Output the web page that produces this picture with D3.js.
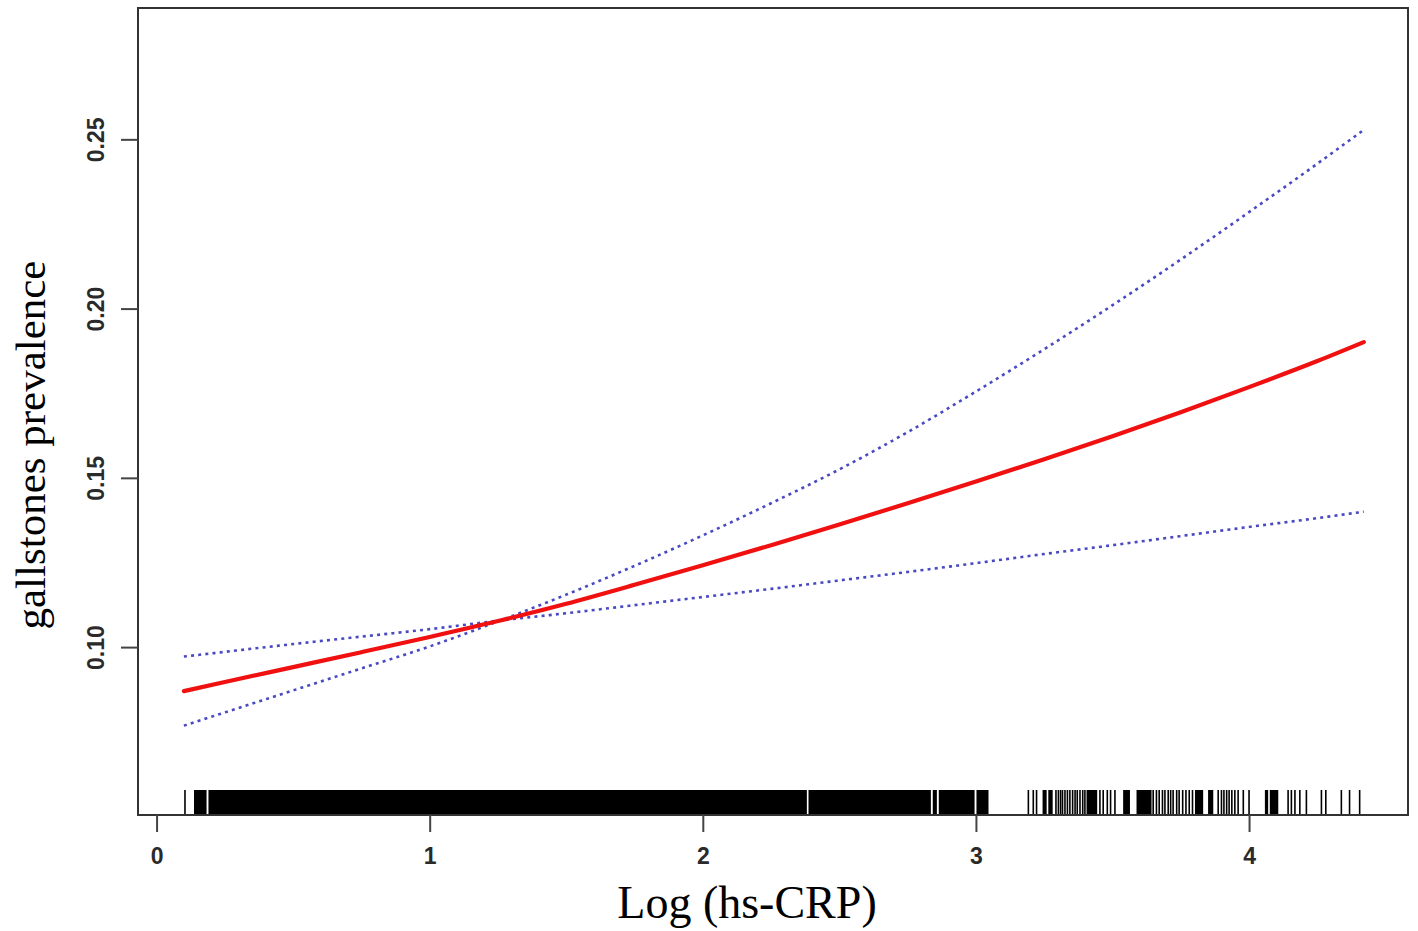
<!DOCTYPE html>
<html>
<head>
<meta charset="utf-8">
<script src="https://cdn.jsdelivr.net/npm/d3@7"></script>
<style>
  html, body { margin: 0; padding: 0; background: #fff; }
  svg { display: block; }
</style>
</head>
<body>
<svg id="chart" width="1418" height="931"></svg>
<script>
// ---------- data ----------
const xValues   = [0.1, 0.25, 0.5, 0.75, 1.0, 1.25, 1.5, 1.75, 2.0, 2.25, 2.5, 2.75, 3.0, 3.25, 3.5, 3.75, 4.0, 4.25, 4.42];
const estimate  = [0.0870, 0.0897, 0.0941, 0.0985, 0.1030, 0.1077, 0.1128, 0.1184, 0.1242, 0.1301, 0.1362, 0.1425, 0.1489, 0.1555, 0.1623, 0.1694, 0.1768, 0.1845, 0.1901];
const ciUpper   = [0.0768, 0.0807, 0.0872, 0.0937, 0.1002, 0.1076, 0.1155, 0.1240, 0.1330, 0.1425, 0.1525, 0.1635, 0.1755, 0.1880, 0.2010, 0.2145, 0.2285, 0.2428, 0.2528];
const ciLower   = [0.0972, 0.0986, 0.1009, 0.1031, 0.1053, 0.1078, 0.1100, 0.1124, 0.1148, 0.1172, 0.1197, 0.1222, 0.1248, 0.1275, 0.1301, 0.1328, 0.1355, 0.1381, 0.1400];

// rug: dense stretches [from, to] and single observations
const rugDense = [
  [0.137, 0.183], [0.190, 2.381], [2.387, 2.835], [2.842, 2.857], [2.864, 2.995], [3.002, 3.046],
  [3.244, 3.259], [3.265, 3.281], [3.405, 3.444], [3.539, 3.564], [3.588, 3.643],
  [3.802, 3.832], [3.850, 3.869], [4.058, 4.070], [4.076, 4.107]
];
const rugTicks = [
  0.104, 3.192, 3.210, 3.222,
  3.293, 3.302, 3.310, 3.317, 3.326, 3.335, 3.344, 3.354, 3.363, 3.371, 3.381, 3.391, 3.399,
  3.454, 3.466, 3.481, 3.493, 3.509,
  3.649, 3.661, 3.671, 3.683, 3.692, 3.704, 3.713, 3.722, 3.735, 3.744, 3.757, 3.769, 3.781, 3.793,
  3.887, 3.899, 3.908, 3.918, 3.927, 3.937, 3.948, 3.960, 3.979, 4.000,
  4.143, 4.155, 4.168, 4.186, 4.210, 4.265, 4.281, 4.338, 4.368, 4.405
];

const xTicks = [0, 1, 2, 3, 4];
const yTicks = [0.10, 0.15, 0.20, 0.25];
const yTickLabels = ["0.10", "0.15", "0.20", "0.25"];
const xTitle = "Log (hs-CRP)";
const yTitle = "gallstones prevalence";

// ---------- layout ----------
const svg = d3.select("#chart");
const box = { left: 138, right: 1408, top: 8, bottom: 815 };

const x = d3.scaleLinear().domain([-0.068, 4.582]).range([box.left, box.right]);
const y = d3.scaleLinear().domain([0.0504, 0.2888]).range([box.bottom, box.top]);

const series = xValues.map((v, i) => ({ x: v, est: estimate[i], up: ciUpper[i], lo: ciLower[i] }));

// rug
const rugTop = 790;
const rug = svg.append("g");
rug.selectAll("rect.dense").data(rugDense).join("rect")
  .attr("class", "dense")
  .attr("x", d => x(d[0]))
  .attr("width", d => Math.max(1.4, x(d[1]) - x(d[0])))
  .attr("y", rugTop)
  .attr("height", box.bottom - rugTop)
  .attr("fill", "#000");
rug.selectAll("line.tick").data(rugTicks).join("line")
  .attr("class", "tick")
  .attr("x1", d => x(d)).attr("x2", d => x(d))
  .attr("y1", rugTop).attr("y2", box.bottom)
  .attr("stroke", "#000").attr("stroke-width", 1.6);

// lines
const lineOf = key => d3.line().x(d => x(d.x)).y(d => y(d[key])).curve(d3.curveMonotoneX);

svg.append("path").datum(series)
  .attr("d", lineOf("up"))
  .attr("fill", "none").attr("stroke", "#3535bd").attr("stroke-width", 2.6)
  .attr("stroke-dasharray", "3,4.2").attr("opacity", 0.9);
svg.append("path").datum(series)
  .attr("d", lineOf("lo"))
  .attr("fill", "none").attr("stroke", "#3535bd").attr("stroke-width", 2.6)
  .attr("stroke-dasharray", "3,4.2").attr("opacity", 0.9);
svg.append("path").datum(series)
  .attr("d", lineOf("est"))
  .attr("fill", "none").attr("stroke", "#f01010").attr("stroke-width", 4.2)
  .attr("stroke-linecap", "round");

// box
svg.append("rect")
  .attr("x", box.left).attr("y", box.top)
  .attr("width", box.right - box.left).attr("height", box.bottom - box.top)
  .attr("fill", "none").attr("stroke", "#333").attr("stroke-width", 2);

// x axis
const xAxis = d3.axisBottom(x).tickValues(xTicks).tickSize(17).tickPadding(16).tickFormat(d3.format("d"));
const gx = svg.append("g").attr("transform", `translate(0,${box.bottom})`).call(xAxis);
gx.select(".domain").remove();
gx.selectAll(".tick line").attr("stroke", "#444").attr("stroke-width", 2);
gx.selectAll(".tick text")
  .attr("font-family", "'Liberation Sans', Arial, sans-serif")
  .attr("font-size", 23).attr("font-weight", "bold").attr("fill", "#2a2a2a");

// y axis
const yAxis = d3.axisLeft(y).tickValues(yTicks).tickSize(17).tickFormat((d, i) => yTickLabels[i]);
const gy = svg.append("g").attr("transform", `translate(${box.left},0)`).call(yAxis);
gy.select(".domain").remove();
gy.selectAll(".tick line").attr("stroke", "#444").attr("stroke-width", 2);
gy.selectAll(".tick text")
  .attr("font-family", "'Liberation Sans', Arial, sans-serif")
  .attr("font-size", 23).attr("font-weight", "bold").attr("fill", "#2a2a2a")
  .attr("text-anchor", "middle")
  .attr("dy", null)
  .attr("x", null)
  .attr("transform", "translate(-50,0) rotate(-90) translate(0,16)");

// titles
svg.append("text")
  .attr("x", 747).attr("y", 918)
  .attr("text-anchor", "middle")
  .attr("font-family", "'Liberation Serif', 'Times New Roman', serif")
  .attr("font-size", 46).attr("fill", "#000")
  .text(xTitle);

svg.append("text")
  .attr("transform", "translate(45,445) rotate(-90)")
  .attr("text-anchor", "middle")
  .attr("font-family", "'Liberation Serif', 'Times New Roman', serif")
  .attr("font-size", 43).attr("fill", "#000")
  .text(yTitle);
</script>
</body>
</html>
